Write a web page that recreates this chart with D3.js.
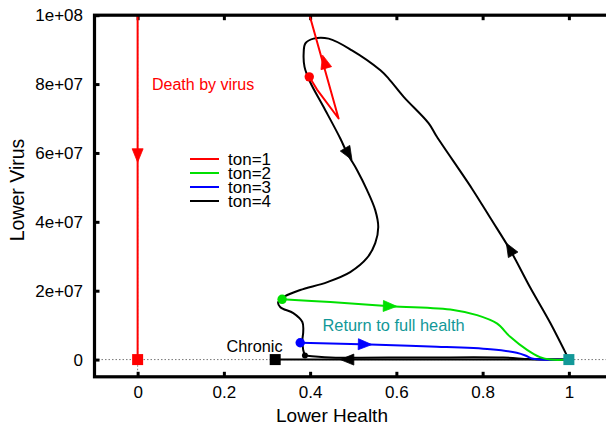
<!DOCTYPE html>
<html>
<head>
<meta charset="utf-8">
<script src="https://cdn.jsdelivr.net/npm/d3@7"></script>
<style>
  html, body { margin: 0; padding: 0; background: #fff; }
  svg { display: block; font-family: "Liberation Sans", Arial, Helvetica, sans-serif; }
</style>
</head>
<body>
<svg id="chart" width="606" height="427"></svg>
<script>
// Tick values and labels
const healthTicks = [0, 0.2, 0.4, 0.6, 0.8, 1];
const healthTickLabels = ["0", "0.2", "0.4", "0.6", "0.8", "1"];
const virusTicks = [0, 2e7, 4e7, 6e7, 8e7, 1e8];
const virusTickLabels = ["0", "2e+07", "4e+07", "6e+07", "8e+07", "1e+08"];

// Trajectories: [health, virus]
const ton1Rise = [[0.398, 8.21e7], [0.416, 7.84e7], [0.466, 7.00e7], [0.3875, 10.5e7]];
const ton1Fall = [[0, 10.5e7], [0, 0]];
const ton2 = [[0.335, 1.75e7], [0.447, 1.67e7], [0.586, 1.55e7], [0.732, 1.44e7], [0.787, 1.29e7],
              [0.833, 1.05e7], [0.864, 0.66e7], [0.903, 0.28e7], [0.933, 0.07e7], [0.957, 0], [1.0, 0]];
const ton3 = [[0.377, 0.49e7], [0.539, 0.44e7], [0.678, 0.38e7], [0.818, 0.30e7], [0.879, 0.20e7],
              [0.899, 0.12e7], [0.914, 0.03e7], [0.933, 0], [1.0, 0]];
const ton4Run = [[0.388, 0.12e7], [0.447, 0.064e7], [0.655, 0.061e7], [0.848, 0.058e7], [0.910, 0.015e7], [1.0, 0]];
const ton4Loop = [[1.0, 0], [0.957, 1.06e7], [0.910, 2.10e7], [0.864, 3.18e7], [0.818, 4.11e7], [0.775, 4.97e7],
                  [0.694, 6.47e7], [0.675, 6.86e7], [0.617, 7.63e7], [0.582, 8.16e7], [0.563, 8.40e7],
                  [0.497, 8.98e7], [0.443, 9.32e7], [0.408, 9.32e7], [0.389, 9.18e7], [0.385, 8.89e7],
                  [0.387, 8.50e7], [0.400, 8.06e7], [0.431, 7.34e7], [0.470, 6.42e7], [0.486, 5.99e7],
                  [0.509, 5.50e7], [0.532, 4.92e7], [0.551, 4.34e7], [0.558, 3.85e7], [0.551, 3.38e7],
                  [0.532, 2.95e7], [0.493, 2.54e7], [0.440, 2.25e7], [0.377, 2.02e7], [0.342, 1.84e7],
                  [0.326, 1.67e7], [0.331, 1.52e7], [0.361, 1.35e7], [0.382, 1.09e7], [0.384, 0.80e7],
                  [0.382, 0.57e7], [0.384, 0.28e7], [0.388, 0.12e7]];
const ton4Chronic = [[1.0, 0], [0.319, 0]];

// Direction arrows along trajectories: [fromHealth, fromVirus, toHealth, toVirus]
const redArrows = [[0, 6.2e7, 0, 5.73e7], [0.4357, 8.54e7, 0.429, 8.84e7]];
const greenArrows = [[0.56, 1.56e7, 0.601, 1.545e7]];
const blueArrows = [[0.50, 0.45e7, 0.543, 0.435e7]];
const blackArrows = [[0.478, 6.2e7, 0.497, 5.80e7], [0.875, 2.95e7, 0.855, 3.38e7], [0.52, 0, 0.470, 0]];

// Start points (circles) and end states (squares)
const startPoints = [
  { h: 0.398, v: 8.21e7, color: "#ff0000", r: 4.7 },
  { h: 0.335, v: 1.75e7, color: "#00e000", r: 4.7 },
  { h: 0.377, v: 0.49e7, color: "#0000ff", r: 4.7 },
  { h: 0.388, v: 0.12e7, color: "#000000", r: 3 }
];
const endStates = [
  { h: 0, v: 0, color: "#ff0000" },
  { h: 0.319, v: 0, color: "#000000" },
  { h: 1.0, v: 0, color: "#129898" }
];

const legendNames = ["ton=1", "ton=2", "ton=3", "ton=4"];
const legendColors = ["#ff0000", "#00e000", "#0000ff", "#000000"];

const svg = d3.select("#chart");
const W = 606, H = 427;
svg.append("rect").attr("width", W).attr("height", H).attr("fill", "#fff");

const plot = { left: 94.5, right: 612, top: 15.2, bottom: 376.8 };

const x = d3.scaleLinear().domain([-0.1, 1.1]).range([plot.left, plot.right]);
const y = d3.scaleLinear().domain([-0.5e7, 1e8]).range([plot.bottom, plot.top]);

svg.append("defs").append("clipPath").attr("id", "plotClip")
  .append("rect")
  .attr("x", plot.left).attr("y", plot.top)
  .attr("width", plot.right - plot.left).attr("height", plot.bottom - plot.top);

// Zero axes (dotted)
svg.append("line")
  .attr("x1", plot.left).attr("x2", plot.right)
  .attr("y1", y(0)).attr("y2", y(0))
  .attr("stroke", "#777").attr("stroke-width", 1).attr("stroke-dasharray", "1.5,2");
svg.append("line")
  .attr("x1", x(0)).attr("x2", x(0))
  .attr("y1", plot.top).attr("y2", plot.bottom)
  .attr("stroke", "#777").attr("stroke-width", 1).attr("stroke-dasharray", "1.5,2");

// Axes (inward ticks)
const fmtX = d => healthTickLabels[healthTicks.indexOf(d)];
const fmtY = d => virusTickLabels[virusTicks.indexOf(d)];

const gx = svg.append("g").attr("transform", `translate(0,${plot.bottom})`)
  .call(d3.axisBottom(x).tickValues(healthTicks).tickFormat(fmtX).tickSizeInner(-5).tickSizeOuter(0).tickPadding(9.5));
const gxTop = svg.append("g").attr("transform", `translate(0,${plot.top})`)
  .call(d3.axisTop(x).tickValues(healthTicks).tickFormat("").tickSizeInner(-5).tickSizeOuter(0));
const gy = svg.append("g").attr("transform", `translate(${plot.left},0)`)
  .call(d3.axisLeft(y).tickValues(virusTicks).tickFormat(fmtY).tickSizeInner(-5).tickSizeOuter(0).tickPadding(11.5));

[gx, gxTop, gy].forEach(g => {
  g.select(".domain").remove();
  g.selectAll(".tick line").attr("stroke", "#000").attr("stroke-width", 3);
  g.selectAll(".tick text").attr("fill", "#000").style("font-size", "17px")
    .style("font-family", '"Liberation Sans", Arial, sans-serif');
});

// Trajectories
const line = d3.line().x(d => x(d[0])).y(d => y(d[1])).curve(d3.curveCatmullRom.alpha(0.5));
const lineStraight = d3.line().x(d => x(d[0])).y(d => y(d[1]));
const data = svg.append("g").attr("clip-path", "url(#plotClip)");

function drawPath(pts, color, gen) {
  data.append("path").datum(pts)
    .attr("d", gen || line)
    .attr("fill", "none").attr("stroke", color).attr("stroke-width", 2)
    .attr("stroke-linejoin", "round").attr("stroke-linecap", "round");
}

drawPath(ton4Chronic, "#000", lineStraight);
drawPath(ton4Run, "#000");
drawPath(ton4Loop, "#000");
drawPath(ton3, "#0000ff");
drawPath(ton2, "#00e000");
drawPath(ton1Rise, "#ff0000", lineStraight);
drawPath(ton1Fall, "#ff0000", lineStraight);

function drawArrows(list, color) {
  list.forEach(a => {
    const x0 = x(a[0]), y0 = y(a[1]), x1 = x(a[2]), y1 = y(a[3]);
    const ang = Math.atan2(y1 - y0, x1 - x0);
    const L = 13.5, Wd = 5.5;
    const ux = Math.cos(ang), uy = Math.sin(ang);
    const nx = -uy, ny = ux;
    const bx = x1 - L * ux, by = y1 - L * uy;
    const pts = [[x1, y1], [bx + Wd * nx, by + Wd * ny], [bx - Wd * nx, by - Wd * ny]];
    data.append("polygon")
      .attr("points", pts.map(p => p.join(",")).join(" "))
      .attr("fill", color).attr("stroke", color).attr("stroke-width", 0.8);
  });
}
drawArrows(blackArrows, "#000");
drawArrows(blueArrows, "#0000ff");
drawArrows(greenArrows, "#00e000");
drawArrows(redArrows, "#ff0000");

// Start points and end states
svg.append("g").selectAll("circle").data(startPoints).join("circle")
  .attr("cx", d => x(d.h)).attr("cy", d => y(d.v)).attr("r", d => d.r)
  .attr("fill", d => d.color);
const sq = 11;
svg.append("g").selectAll("rect").data(endStates).join("rect")
  .attr("x", d => x(d.h) - sq / 2).attr("y", d => y(d.v) - sq / 2)
  .attr("width", sq).attr("height", sq)
  .attr("fill", d => d.color);

// Frame
svg.append("rect")
  .attr("x", plot.left).attr("y", plot.top)
  .attr("width", plot.right - plot.left).attr("height", plot.bottom - plot.top)
  .attr("fill", "none").attr("stroke", "#000").attr("stroke-width", 3.2);

// Annotations
svg.append("text").attr("x", 152).attr("y", 89.5).attr("fill", "#ff0000")
  .style("font-size", "16px").text("Death by virus");
svg.append("text").attr("x", 322.5).attr("y", 331).attr("fill", "#129898")
  .style("font-size", "16.4px").text("Return to full health");
svg.append("text").attr("x", 226.5).attr("y", 351.5).attr("fill", "#000")
  .style("font-size", "16.3px").text("Chronic");

// Legend
const legend = svg.append("g");
legendNames.forEach((name, i) => {
  const ly = 159 + i * 14;
  legend.append("line").attr("x1", 190).attr("x2", 219).attr("y1", ly).attr("y2", ly)
    .attr("stroke", legendColors[i]).attr("stroke-width", 2);
  legend.append("text").attr("x", 228).attr("y", ly + 6).attr("fill", "#000")
    .style("font-size", "17px").text(name);
});

// Axis titles
svg.append("text").attr("x", 332).attr("y", 422).attr("text-anchor", "middle")
  .attr("fill", "#000").style("font-size", "19px").text("Lower Health");
svg.append("text").attr("transform", "translate(24,190) rotate(-90)").attr("text-anchor", "middle")
  .attr("fill", "#000").style("font-size", "19.5px").text("Lower Virus");
</script>
</body>
</html>
